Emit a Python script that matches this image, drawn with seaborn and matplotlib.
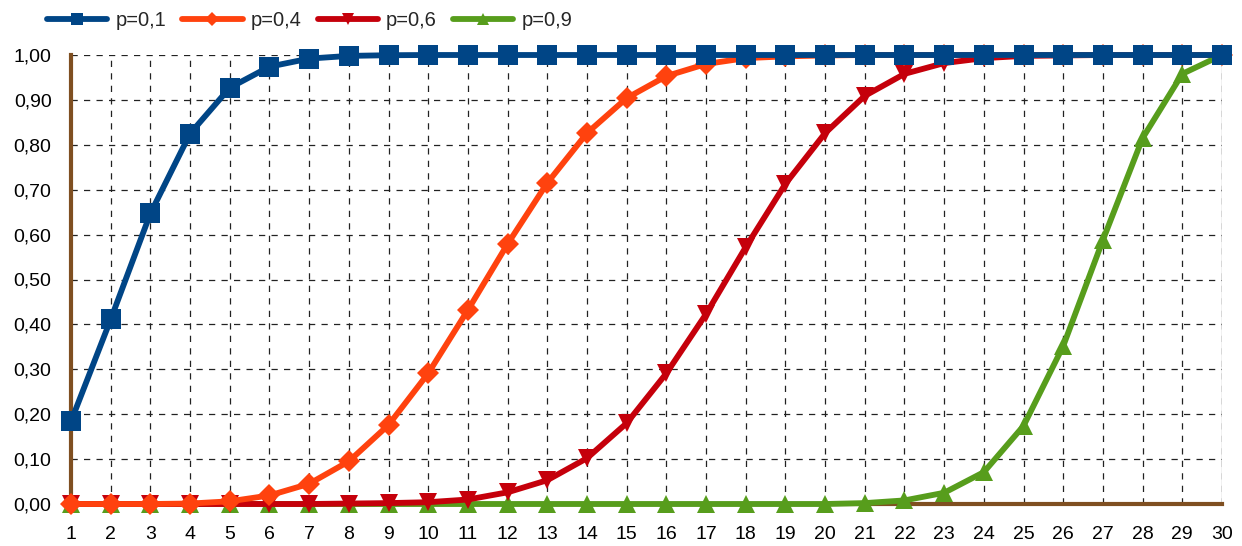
import numpy as np
import pandas as pd
import matplotlib.pyplot as plt
import seaborn as sns
from matplotlib.ticker import FuncFormatter

# values
k = list(range(1, 31))
p01 = [0.184, 0.411, 0.647, 0.825, 0.927, 0.974, 0.992, 0.998, 0.9995, 1.0,
       1.0, 1.0, 1.0, 1.0, 1.0, 1.0, 1.0, 1.0, 1.0, 1.0,
       1.0, 1.0, 1.0, 1.0, 1.0, 1.0, 1.0, 1.0, 1.0, 1.0]
p04 = [0.0, 0.0, 0.0, 0.001, 0.006, 0.019, 0.045, 0.095, 0.176, 0.291,
       0.432, 0.579, 0.715, 0.826, 0.904, 0.953, 0.980, 0.993, 0.997, 0.999,
       1.0, 1.0, 1.0, 1.0, 1.0, 1.0, 1.0, 1.0, 1.0, 1.0]
p06 = [0.0, 0.0, 0.0, 0.0, 0.0, 0.0, 0.0, 0.001, 0.002, 0.004,
       0.010, 0.026, 0.053, 0.102, 0.180, 0.291, 0.423, 0.572, 0.713, 0.826,
       0.909, 0.958, 0.982, 0.993, 0.998, 0.999, 1.0, 1.0, 1.0, 1.0]
p09 = [0.0, 0.0, 0.0, 0.0, 0.0, 0.0, 0.0, 0.0, 0.0, 0.0,
       0.0, 0.0, 0.0, 0.0, 0.0, 0.0, 0.0, 0.0, 0.0, 0.0,
       0.002, 0.008, 0.025, 0.071, 0.174, 0.352, 0.588, 0.815, 0.958, 1.0]
labels = ['p=0,1', 'p=0,4', 'p=0,6', 'p=0,9']

df = pd.DataFrame({'k': k * 4,
                   'v': p01 + p04 + p06 + p09,
                   'serie': [lab for lab in labels for _ in k]})

colors = {'p=0,1': '#004586', 'p=0,4': '#ff420e', 'p=0,6': '#c5000b', 'p=0,9': '#579d1c'}
marks = {'p=0,1': 's', 'p=0,4': 'D', 'p=0,6': 'v', 'p=0,9': '^'}
msize = {'p=0,1': 14, 'p=0,4': 11, 'p=0,6': 13, 'p=0,9': 13}
zord = {'p=0,1': 6, 'p=0,4': 5, 'p=0,6': 4, 'p=0,9': 3}

sns.set_style('white')
plt.rcParams['font.family'] = ['Liberation Sans', 'DejaVu Sans']

fig = plt.figure(figsize=(12.42, 5.46), dpi=100)
ax = fig.add_axes([71 / 1242, 1 - 504 / 546, (1222 - 71) / 1242, (504 - 55) / 546])

brown = '#7f4f21'
for lab in labels:
    sns.lineplot(data=df[df['serie'] == lab], x='k', y='v', ax=ax,
                 color=colors[lab], marker=marks[lab], markersize=msize[lab],
                 markeredgewidth=0, linewidth=4.2, label=lab,
                 zorder=zord[lab], clip_on=False)

ax.set_xlim(1, 30)
ax.set_ylim(0, 1)
ax.set_xticks(k)
ax.set_yticks(np.arange(0, 1.01, 0.1))
ax.yaxis.set_major_formatter(FuncFormatter(lambda v, pos: f'{v:.2f}'.replace('.', ',')))
ax.grid(True, color='#222222', linestyle=(0, (5, 5)), linewidth=0.9)
ax.set_axisbelow(True)
ax.set_xlabel('')
ax.set_ylabel('')
ax.tick_params(axis='both', labelsize=14, colors=brown, width=3, length=8,
               labelcolor='black')
ax.tick_params(axis='y', pad=6)
ax.tick_params(axis='x', pad=8)

for s in ['top', 'right']:
    ax.spines[s].set_visible(False)
for s in ['left', 'bottom']:
    ax.spines[s].set_color(brown)
    ax.spines[s].set_linewidth(3)
ax.axvline(30, color='#bbbbbb', linewidth=1, zorder=0)

ax.legend(loc='center left', bbox_to_anchor=(-0.028, 1.076), ncol=4, frameon=False,
          fontsize=14.5, handlelength=3.0, columnspacing=0.8, handletextpad=0.4,
          markerscale=0.65, borderaxespad=0)

fig.savefig('out.png', dpi=100)
